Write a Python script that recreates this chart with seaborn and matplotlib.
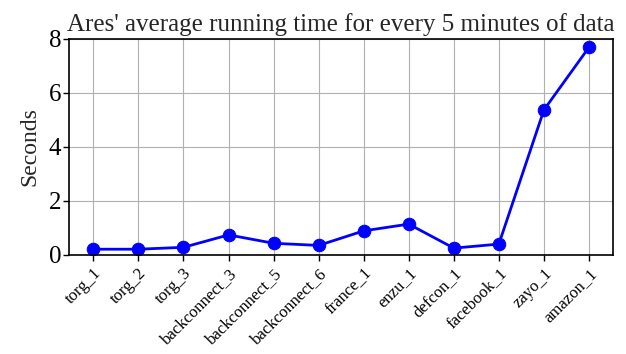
import matplotlib
matplotlib.use("Agg")
import matplotlib.pyplot as plt
import seaborn as sns
import pandas as pd

datasets = ["torg_1", "torg_2", "torg_3", "backconnect_3", "backconnect_5",
            "backconnect_6", "france_1", "enzu_1", "defcon_1", "facebook_1",
            "zayo_1", "amazon_1"]
avg_seconds = [0.21, 0.21, 0.28, 0.74, 0.43, 0.35, 0.89, 1.14, 0.25, 0.40,
               5.37, 7.69]
y_ticks = [0, 2, 4, 6, 8]

df = pd.DataFrame({"dataset": datasets, "seconds": avg_seconds})

sns.set_style("ticks")
plt.rcParams["font.family"] = ["Liberation Serif", "DejaVu Serif"]

fig = plt.figure(figsize=(6.26, 3.54), dpi=100)
ax = fig.add_axes([0.111, 0.280, 0.868, 0.610])

sns.lineplot(data=df, x="dataset", y="seconds", ax=ax, color="blue",
             marker="o", markersize=9, markeredgecolor="blue",
             linewidth=2, sort=False)

ax.set_ylim(0, 8)
ax.set_yticks(y_ticks)
ax.set_xlim(-0.53, len(datasets) - 0.47)
ax.grid(True, color="#b0b0b0", linewidth=0.8)
ax.set_axisbelow(True)
for s in ax.spines.values():
    s.set_linewidth(1.2)
    s.set_color("black")

ax.tick_params(axis="y", labelsize=18, length=4, width=1, colors="black", pad=2)
ax.tick_params(axis="x", labelsize=12, length=4, width=1, colors="black")
plt.setp(ax.get_xticklabels(), rotation=45, ha="right", rotation_mode="anchor")

ax.set_xlabel("")
ax.set_ylabel("Seconds", fontsize=17, labelpad=6)
ax.set_title("Ares' average running time for every 5 minutes of data",
             fontsize=18, pad=6)

fig.savefig("out.png", dpi=100)
